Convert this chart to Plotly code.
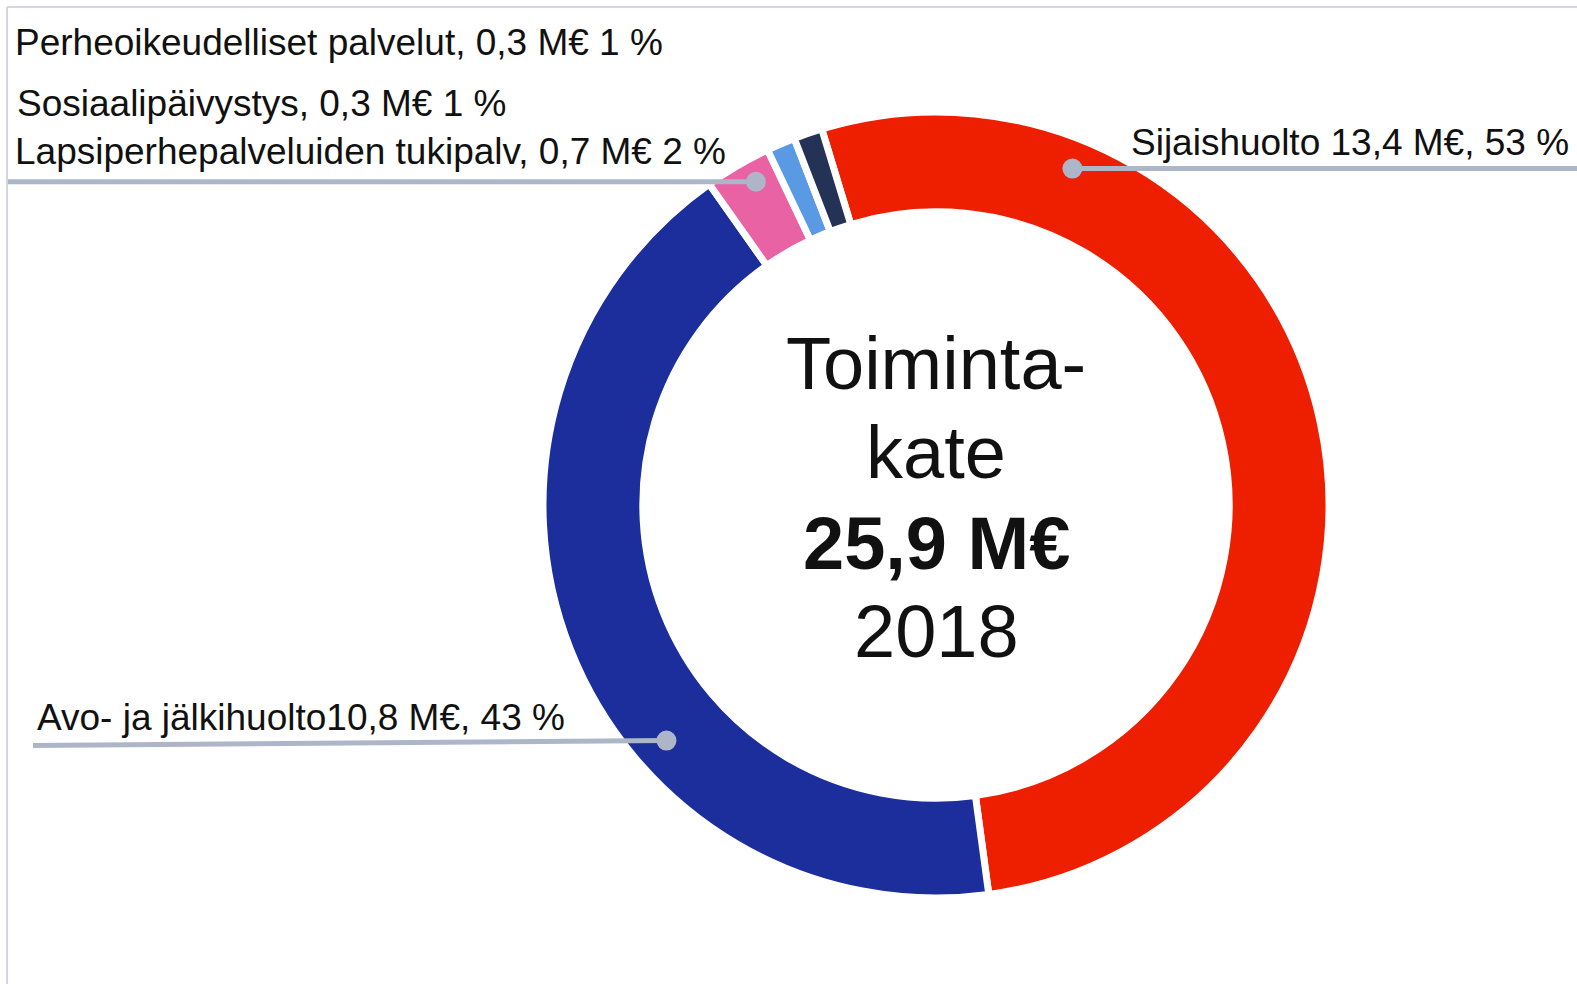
import math
import plotly.graph_objects as go

# ---- data ----
categories = ["Sijaishuolto", "Avo- ja jälkihuolto", "Lapsiperhepalveluiden tukipalv",
              "Sosiaalipäivystys", "Perheoikeudelliset palvelut"]
values = [13.4, 10.8, 0.7, 0.3, 0.3]
label_texts = ["Sijaishuolto 13,4 M€, 53 %", "Avo- ja jälkihuolto10,8 M€, 43 %",
               "Lapsiperhepalveluiden tukipalv, 0,7 M€ 2 %", "Sosiaalipäivystys, 0,3 M€ 1 %",
               "Perheoikeudelliset palvelut, 0,3 M€ 1 %"]
center_lines = ["Toiminta-", "kate", "<b>25,9 M€</b>", "2018"]

# ---- style ----
W, H = 1577, 984
colors = ["#EE1E00", "#1B2E9B", "#E862A4", "#5A9AE5", "#243256"]
CX, CY, R = 936, 505, 393
HOLE = 0.746
ROT = -16.9
FONT = "Liberation Sans, Arial, sans-serif"
LINE_COL = "#ADB5C8"

def px(x):
    return x / W

def py(y):
    return 1 - y / H

fig = go.Figure(go.Pie(
    labels=categories, values=values, sort=False, direction="clockwise",
    rotation=ROT, hole=HOLE, textinfo="none", hoverinfo="label+value",
    marker=dict(colors=colors, line=dict(color="white", width=7)),
    domain=dict(x=[px(CX - R), px(CX + R)], y=[py(CY + R), py(CY - R)]),
    showlegend=False,
))

# slice angles (clockwise from 12 o'clock)
total = sum(values)
starts, ends = [], []
a = ROT
for v in values:
    starts.append(a)
    a += v / total * 360
    ends.append(a)

def slice_point(i, frac, rad):
    ang = math.radians(starts[i] + frac * (ends[i] - starts[i]))
    return CX + rad * math.sin(ang), CY - rad * math.cos(ang)

shapes = []
annotations = []

def dot(x, y):
    shapes.append(dict(type="circle", xref="paper", yref="paper",
                       x0=px(x - 10), x1=px(x + 10), y0=py(y + 10), y1=py(y - 10),
                       fillcolor=LINE_COL, line=dict(width=0), layer="above"))

def line(x0, y0, x1, y1):
    shapes.append(dict(type="line", xref="paper", yref="paper",
                       x0=px(x0), y0=py(y0), x1=px(x1), y1=py(y1),
                       line=dict(color=LINE_COL, width=5), layer="above"))

def label(text, x, y):
    annotations.append(dict(text=text, x=px(x), y=py(y), xref="paper", yref="paper",
                            xanchor="left", yanchor="middle", showarrow=False,
                            font=dict(family=FONT, size=37, color="#111111")))

# Sijaishuolto
dx, dy = slice_point(0, 0.206, 363)
line(dx, dy, W, dy)
dot(dx, dy)
label(label_texts[0], 1129, 143)

# Avo- ja jälkihuolto
dx, dy = slice_point(1, 0.371, 358)
line(33, dy + 5, dx, dy)
dot(dx, dy)
label(label_texts[1], 35, 717)

# Lapsiperhepalveluiden tukipalv
dx, dy = slice_point(2, 0.62, 370)
line(7, dy, dx, dy)
dot(dx, dy)
label(label_texts[2], 13, 151)

# Sosiaalipäivystys & Perheoikeudelliset (no leader lines)
label(label_texts[3], 15, 103)
label(label_texts[4], 13, 42)

# center text
for t, yc in zip(center_lines, [364, 452, 543, 631]):
    annotations.append(dict(text=t, x=px(CX), y=py(yc), xref="paper", yref="paper",
                            xanchor="center", yanchor="middle", showarrow=False,
                            font=dict(family=FONT, size=74, color="#111111")))

# frame lines (left & top)
shapes.append(dict(type="line", xref="paper", yref="paper", x0=px(7), y0=py(7), x1=px(7), y1=0,
                   line=dict(color="#D3D6E2", width=2)))
shapes.append(dict(type="line", xref="paper", yref="paper", x0=px(7), y0=py(7), x1=1, y1=py(7),
                   line=dict(color="#D3D6E2", width=2)))

fig.update_layout(width=W, height=H, margin=dict(l=0, r=0, t=0, b=0),
                  paper_bgcolor="white", plot_bgcolor="white",
                  shapes=shapes, annotations=annotations)

fig.write_html("out.html", config={"displayModeBar": False},
               post_script="document.body.style.margin='0';")
